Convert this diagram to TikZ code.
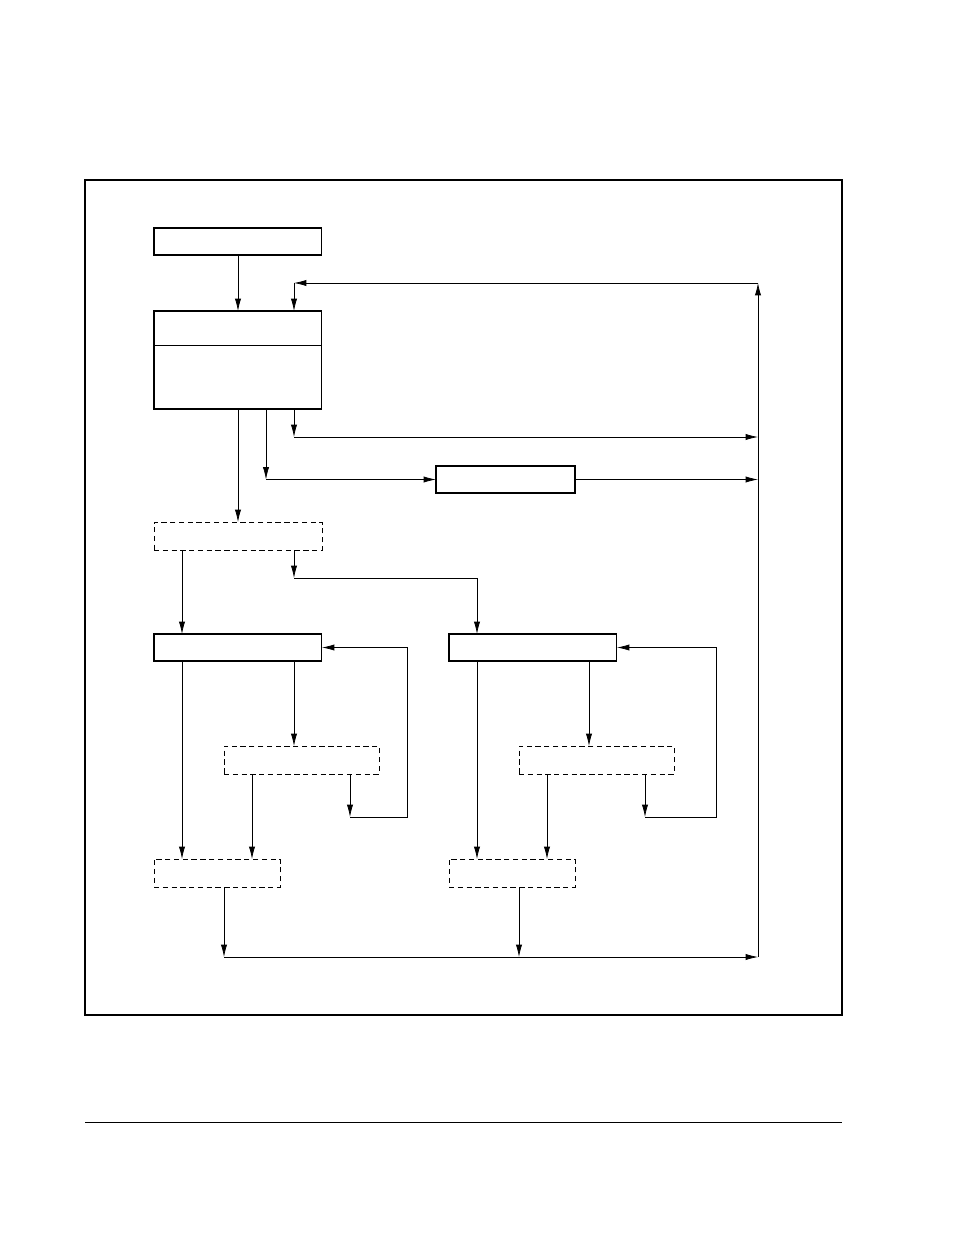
\documentclass[tikz,border=0pt]{standalone}
\usetikzlibrary{arrows.meta,calc}
\tikzset{
  blk/.style={draw,semithick,rectangle,inner sep=0pt,outer sep=0pt,anchor=north west},
  dblk/.style={blk,densely dashed,thin},
  flow/.style={-{Latex[length=7pt,width=3.5pt]},thin}
}
\begin{document}
\begin{tikzpicture}[x=0.02cm,y=-0.02cm]
        \useasboundingbox (0,0) rectangle (954,1235);
        % frame and rule
        \draw[thick] (85,180) rectangle (842,1015);
        \draw (85,1122) -- (842,1122);

        % boxes
        \node[blk,minimum width=3.36cm,minimum height=0.54cm] (start) at (154,228) {};
        \node[blk,minimum width=3.36cm,minimum height=1.96cm] (main) at (154,311) {};
        \draw ($(main.north west)+(0,34)$) -- ($(main.north east)+(0,34)$);
        \node[blk,minimum width=2.78cm,minimum height=0.54cm] (side) at (436,466) {};
        \node[dblk,minimum width=3.36cm,minimum height=0.56cm] (split) at (154,522) {};
        \node[blk,minimum width=3.36cm,minimum height=0.54cm] (left) at (154,634) {};
        \node[blk,minimum width=3.36cm,minimum height=0.54cm] (right) at (449,634) {};
        \node[dblk,minimum width=3.1cm,minimum height=0.56cm] (lsub) at (224,746) {};
        \node[dblk,minimum width=3.1cm,minimum height=0.56cm] (rsub) at (519,746) {};
        \node[dblk,minimum width=2.52cm,minimum height=0.56cm] (lend) at (154,859) {};
        \node[dblk,minimum width=2.52cm,minimum height=0.56cm] (rend) at (449,859) {};

        % return bus
        \coordinate (bustop) at (758,283);
        \coordinate (busbot) at (758,957);
        \coordinate (mainin) at ($(main.north west)+(140,0)$);
        \draw[flow] (busbot) -- (bustop);
        \draw[flow] (bustop) -- (mainin |- bustop);
        \draw[flow] (mainin |- bustop) -- (mainin);

        % from start and main
        \draw[flow] (start.south) -- (main.north);
        \coordinate (mout) at ($(main.south west)+(140,0)$);
        \draw[flow] (mout) -- ++(0,28) coordinate (mturn);
        \draw[flow] (mturn) -- (mturn -| busbot);
        \coordinate (sout) at ($(main.south west)+(112,0)$);
        \draw[flow] (sout) -- (sout |- side.west);
        \draw[flow] (sout |- side.west) -- (side.west);
        \draw[flow] (side.east) -- (side.east -| busbot);
        \draw[flow] (main.south) -- (split.north);

        % split
        \coordinate (sl) at ($(split.south west)+(28,0)$);
        \draw[flow] (sl) -- (sl |- left.north);
        \coordinate (sr) at ($(split.south west)+(140,0)$);
        \draw[flow] (sr) -- ++(0,28) coordinate (srturn);
        \coordinate (rin) at ($(right.north west)+(28,0)$);
        \draw[flow] (srturn) -- (rin |- srturn) -- (rin);

        % two branches
        \foreach \br/\sub/\en/\lx in {left/lsub/lend/407,right/rsub/rend/716}{
          \coordinate (lx) at (\lx,0);
          \coordinate (a) at ($(\br.south west)+(28,0)$);
          \draw[flow] (a) -- (a |- \en.north);
          \coordinate (b) at ($(\br.south west)+(140,0)$);
          \draw[flow] (b) -- (b |- \sub.north);
          \coordinate (c) at ($(\sub.south west)+(28,0)$);
          \draw[flow] (c) -- (c |- \en.north);
          \coordinate (d) at ($(\sub.south west)+(126,0)$);
          \draw[flow] (d) -- ++(0,43) coordinate (dturn);
          \draw[flow] (dturn) -- (dturn -| lx) -- (lx |- \br.east) -- (\br.east);
          \coordinate (e) at ($(\en.south west)+(70,0)$);
          \draw[flow] (e) -- (e |- busbot);
        }
        \draw[flow] (lend.south west |- busbot) ++(70,0) -- (busbot);
\end{tikzpicture}
\end{document}
